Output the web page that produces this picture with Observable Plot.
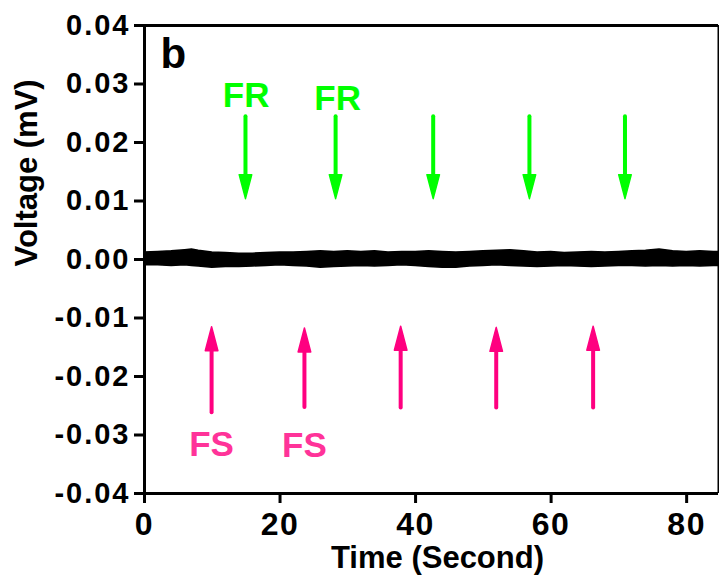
<!DOCTYPE html>
<html><head><meta charset="utf-8">
<script src="https://cdn.jsdelivr.net/npm/d3@7"></script>
<script src="https://cdn.jsdelivr.net/npm/@observablehq/plot@0.6"></script>
<style>body{margin:0;background:#fff}</style>
</head><body><div id="chart"></div>
<script>
// Noise trace envelope (mV)
const time  = [0,2,4,6,7,8,10,12,14,16,18,20,22,24,26,28,30,32,34,36,38,40,42,44,46,48,50,52,54,56,58,60,62,64,66,68,70,72,74,76,78,80,82,84,84.7];
const upper = [0.0012,0.0013,0.0014,0.0016,0.0017,0.0015,0.0012,0.0011,0.0010,0.0010,0.0011,0.0012,0.0012,0.0013,0.0014,0.0013,0.0014,0.0013,0.0014,0.0012,0.0013,0.0013,0.0014,0.0013,0.0012,0.0013,0.0014,0.0015,0.0016,0.0014,0.0012,0.0013,0.0011,0.0012,0.0013,0.0012,0.0013,0.0014,0.0015,0.0017,0.0014,0.0013,0.0014,0.0013,0.0013];
const lower = [-0.0010,-0.0010,-0.0011,-0.0010,-0.0011,-0.0012,-0.0014,-0.0013,-0.0013,-0.0012,-0.0011,-0.0010,-0.0011,-0.0012,-0.0014,-0.0013,-0.0012,-0.0011,-0.0012,-0.0011,-0.0010,-0.0011,-0.0013,-0.0014,-0.0014,-0.0012,-0.0011,-0.0010,-0.0011,-0.0012,-0.0013,-0.0012,-0.0011,-0.0012,-0.0013,-0.0012,-0.0011,-0.0011,-0.0012,-0.0011,-0.0012,-0.0011,-0.0012,-0.0011,-0.0011];

const xTicks = [0, 20, 40, 60, 80];
const yTicks = [-0.04, -0.03, -0.02, -0.01, 0, 0.01, 0.02, 0.03, 0.04];
const xMax = 84.7;

// FR arrows (green, pointing down)
const frTime = [14.9, 28.2, 42.6, 56.8, 70.9];
const frTail = [0.0244, 0.0244, 0.0244, 0.0244, 0.0244];
const frTip  = [0.0104, 0.0104, 0.0104, 0.0104, 0.0104];
const frLabels = ["FR", "FR"];
const frLabelTime = [15.0, 28.5];
const frLabelY = [0.0279, 0.0274];

// FS arrows (pink, pointing up)
const fsTime = [9.9, 23.6, 37.8, 51.9, 66.2];
const fsTail = [-0.0262, -0.0253, -0.0254, -0.0254, -0.0254];
const fsTip  = [-0.0115, -0.0117, -0.0114, -0.0116, -0.0114];
const fsLabels = ["FS", "FS"];
const fsLabelTime = [9.9, 23.6];
const fsLabelY = [-0.0316, -0.0318];

const panelLabel = "b";
const xTitle = "Time (Second)";
const yTitle = "Voltage (mV)";

const green = "#00ff00";
const pinkArrow = "#ff0080";
const pinkText = "#ff3399";

const noise = time.map((t, i) => ({t, hi: upper[i], lo: lower[i]}));
const fr = frTime.map((t, i) => ({t, tail: frTail[i], tip: frTip[i]}));
const fs = fsTime.map((t, i) => ({t, tail: fsTail[i], tip: fsTip[i]}));
const frLab = frLabels.map((s, i) => ({s, t: frLabelTime[i], y: frLabelY[i]}));
const fsLab = fsLabels.map((s, i) => ({s, t: fsLabelTime[i], y: fsLabelY[i]}));

const headDown = {draw(ctx) { ctx.moveTo(0, 0); ctx.lineTo(-6.3, -24); ctx.lineTo(6.3, -24); ctx.closePath(); }};
const headUp = {draw(ctx) { ctx.moveTo(0, 0); ctx.lineTo(-6.3, 24); ctx.lineTo(6.3, 24); ctx.closePath(); }};

const chart = Plot.plot({
  width: 719,
  height: 579,
  marginLeft: 144,
  marginRight: 1,
  marginTop: 25,
  marginBottom: 86,
  style: {fontFamily: "'Liberation Sans', Arial, sans-serif", background: "white", overflow: "visible"},
  x: {domain: [0, xMax]},
  y: {domain: [-0.04, 0.04]},
  marks: [
    Plot.areaY(noise, {x: "t", y1: "lo", y2: "hi", fill: "black", stroke: "black", strokeWidth: 1.5}),
    Plot.ruleX(fr, {x: "t", y1: "tail", y2: "tip", stroke: green, strokeWidth: 4, strokeLinecap: "round", insetBottom: 14}),
    Plot.dot(fr, {x: "t", y: "tip", symbol: headDown, r: 5, fill: green, stroke: green, strokeWidth: 1.5, strokeLinejoin: "round"}),
    Plot.ruleX(fs, {x: "t", y1: "tip", y2: "tail", stroke: pinkArrow, strokeWidth: 4, strokeLinecap: "round", insetTop: 14}),
    Plot.dot(fs, {x: "t", y: "tip", symbol: headUp, r: 5, fill: pinkArrow, stroke: pinkArrow, strokeWidth: 1.5, strokeLinejoin: "round"}),
    Plot.text(frLab, {x: "t", y: "y", text: "s", fill: green, fontSize: 35, fontWeight: "bold", textAnchor: "middle", lineAnchor: "middle"}),
    Plot.text(fsLab, {x: "t", y: "y", text: "s", fill: pinkText, fontSize: 35, fontWeight: "bold", textAnchor: "middle", lineAnchor: "middle"}),
    Plot.ruleX([0], {stroke: "black", strokeWidth: 3}),
    Plot.ruleX([xMax], {stroke: "black", strokeWidth: 2}),
    Plot.ruleY([-0.04], {stroke: "black", strokeWidth: 3}),
    Plot.ruleY([0.04], {stroke: "black", strokeWidth: 3}),
    Plot.axisY({ticks: yTicks, tickSize: 10, tickPadding: 4, tickFormat: d => d.toFixed(2), fontSize: 29, fontWeight: "bold", strokeWidth: 3, label: null, fill: "black"}),
    Plot.axisX({ticks: xTicks, tickSize: 10, tickPadding: 9, tickFormat: d => String(d), fontSize: 32, fontWeight: "bold", strokeWidth: 3, label: null, fill: "black"}),
    Plot.text([xTitle], {frameAnchor: "bottom", lineAnchor: "top", dy: 52, dx: 6, fontSize: 31, fontWeight: "bold", fill: "black", ariaLabel: "x-title"}),
    Plot.text([yTitle], {frameAnchor: "left", rotate: -90, lineAnchor: "middle", dx: -117, dy: 7, fontSize: 31, fontWeight: "bold", fill: "black", ariaLabel: "y-title"}),
    Plot.text([panelLabel], {frameAnchor: "top-left", textAnchor: "start", lineAnchor: "top", dx: 16, dy: 13, fontSize: 42, fontWeight: "bold", fill: "black"})
  ]
});

chart.querySelectorAll('g[aria-label="y-axis tick label"] text').forEach(t => t.setAttribute("letter-spacing", "2"));
chart.querySelectorAll('g[aria-label="x-axis tick label"] text').forEach(t => t.setAttribute("letter-spacing", "1.5"));
chart.querySelectorAll('g[aria-label="x-title"] text, g[aria-label="y-title"] text').forEach(t => t.setAttribute("letter-spacing", "1.5"));

document.getElementById("chart").appendChild(chart);
</script>
</body></html>
